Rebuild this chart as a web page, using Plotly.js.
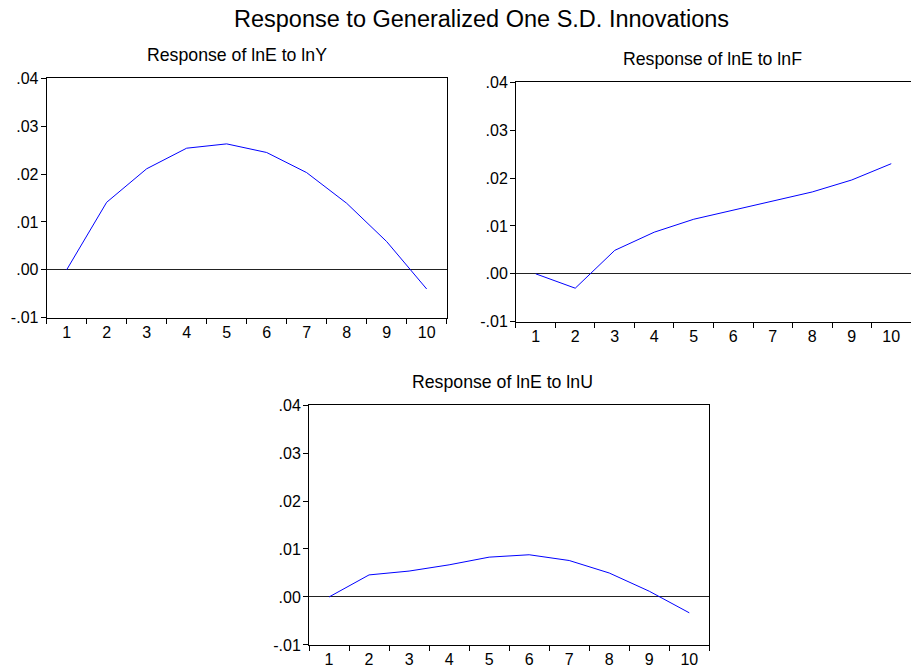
<!DOCTYPE html>
<html>
<head>
<meta charset="utf-8">
<script src="https://cdn.plot.ly/plotly-3.0.1.min.js"></script>
<style>html,body{margin:0;padding:0;background:#fff;}#chart{width:911px;height:669px;}</style>
</head>
<body>
<div id="chart"></div>
<script>
const periods = ['1','2','3','4','5','6','7','8','9','10'];
const respY = [0.0000, 0.0141, 0.0211, 0.0254, 0.0263, 0.0245, 0.0203, 0.0139, 0.0059, -0.0040];
const respF = [0.0000, -0.0030, 0.0049, 0.0087, 0.0114, 0.0133, 0.0151, 0.0171, 0.0196, 0.0230];
const respU = [0.0000, 0.0046, 0.0054, 0.0067, 0.0083, 0.0088, 0.0076, 0.0050, 0.0012, -0.0033];
const yTickVals = [-0.01, 0.00, 0.01, 0.02, 0.03, 0.04];
const yTickText = ['-.01', '.00', '.01', '.02', '.03', '.04'];
const mainTitle = 'Response to Generalized One S.D. Innovations';
const subTitles = ['Response of lnE to lnY', 'Response of lnE to lnF', 'Response of lnE to lnU'];

const FONT = 'Liberation Sans, Arial, sans-serif';
const line = {color: '#0000ff', width: 1};

const traces = [
  {x: periods, y: respY, type: 'scatter', mode: 'lines', line: line, xaxis: 'x', yaxis: 'y', hoverinfo: 'none'},
  {x: periods, y: respF, type: 'scatter', mode: 'lines', line: line, xaxis: 'x2', yaxis: 'y2', hoverinfo: 'none'},
  {x: periods, y: respU, type: 'scatter', mode: 'lines', line: line, xaxis: 'x3', yaxis: 'y3', hoverinfo: 'none'}
];

function xax(domain, anchor) {
  return {
    domain: domain, anchor: anchor, type: 'category', range: [-0.5, 9.5],
    showline: true, linecolor: '#000', linewidth: 1, mirror: true,
    ticks: 'outside', tickson: 'boundaries', ticklen: 5, tickcolor: '#000', tickwidth: 1,
    showgrid: false, zeroline: false, fixedrange: true,
    tickfont: {family: FONT, size: 16, color: '#000'}
  };
}
function yax(domain, anchor, mirror) {
  return {
    domain: domain, anchor: anchor, range: [-0.01, 0.04],
    tickmode: 'array', tickvals: yTickVals, ticktext: yTickText,
    showline: true, linecolor: '#000', linewidth: 1, mirror: mirror,
    ticks: 'outside', ticklen: 5, tickcolor: '#000', tickwidth: 1,
    showgrid: false, zeroline: true, zerolinecolor: '#222', zerolinewidth: 1,
    fixedrange: true, ticklabelstandoff: -1,
    tickfont: {family: FONT, size: 16, color: '#000'}
  };
}

const layout = {
  width: 911, height: 669,
  margin: {l: 0, r: 0, t: 0, b: 0},
  paper_bgcolor: '#fff', plot_bgcolor: '#fff',
  showlegend: false,
  font: {family: FONT, color: '#000'},
  xaxis: xax([0.0512, 0.4903], 'y'),
  yaxis: yax([0.5251, 0.8830], 'x', true),
  xaxis2: xax([0.5664, 1.0], 'y2'),
  yaxis2: yax([0.5191, 0.8770], 'x2', false),
  xaxis3: xax([0.3392, 0.7786], 'y3'),
  yaxis3: yax([0.0359, 0.3946], 'x3', true),
  annotations: [
    {text: mainTitle, xref: 'paper', yref: 'paper', x: 0.528, y: 0.9716, xanchor: 'center', yanchor: 'middle', showarrow: false, font: {family: FONT, size: 23.5, color: '#000'}},
    {text: subTitles[0], xref: 'paper', yref: 'paper', x: 0.2605, y: 0.9178, xanchor: 'center', yanchor: 'middle', showarrow: false, font: {family: FONT, size: 17.7, color: '#000'}},
    {text: subTitles[1], xref: 'paper', yref: 'paper', x: 0.7816, y: 0.9118, xanchor: 'center', yanchor: 'middle', showarrow: false, font: {family: FONT, size: 17.7, color: '#000'}},
    {text: subTitles[2], xref: 'paper', yref: 'paper', x: 0.552, y: 0.4295, xanchor: 'center', yanchor: 'middle', showarrow: false, font: {family: FONT, size: 17.7, color: '#000'}}
  ]
};

Plotly.newPlot('chart', traces, layout, {displayModeBar: false, staticPlot: true});
</script>
</body>
</html>
